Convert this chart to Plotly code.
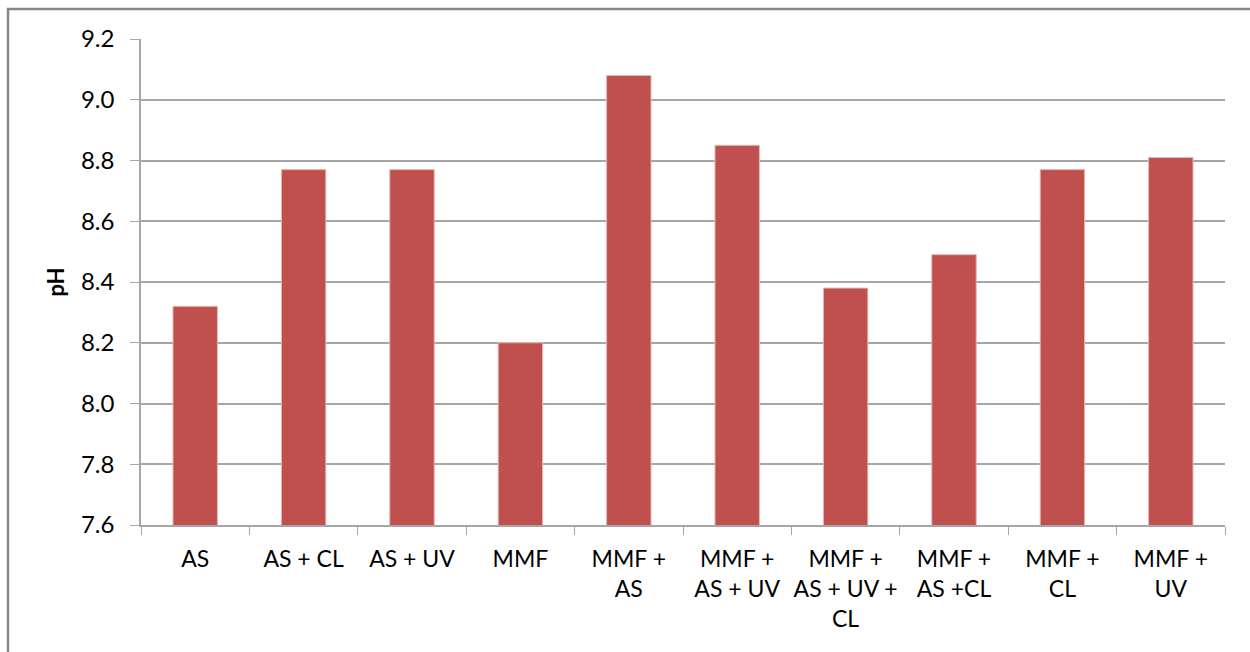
import plotly.graph_objects as go

categories = [
    "AS", "AS + CL", "AS + UV", "MMF", "MMF +<br>AS", "MMF +<br>AS + UV",
    "MMF +<br>AS + UV +<br>CL", "MMF +<br>AS +CL", "MMF +<br>CL", "MMF +<br>UV",
]
ph_values = [8.32, 8.77, 8.77, 8.20, 9.08, 8.85, 8.38, 8.49, 8.77, 8.81]
y_ticks = [7.6, 7.8, 8.0, 8.2, 8.4, 8.6, 8.8, 9.0, 9.2]

font_family = "Lato, 'Open Sans', sans-serif"
grid_color = "#a6a6a6"

fig = go.Figure(
    go.Bar(
        x=categories,
        y=ph_values,
        marker=dict(color="#c0504d", line=dict(color="#e8b8b6", width=1)),
    )
)

fig.update_layout(
    width=1250,
    height=652,
    margin=dict(l=141, r=25, t=39, b=127, autoexpand=False),
    paper_bgcolor="white",
    plot_bgcolor="white",
    bargap=0.59,
    showlegend=False,
    font=dict(family=font_family, size=21, color="#000000"),
    shapes=[
        dict(
            type="rect", xref="paper", yref="paper",
            x0=-0.1227, x1=1.3, y0=-0.5, y1=1.0617,
            line=dict(color="#878787", width=2.5), fillcolor="rgba(0,0,0,0)",
            layer="below",
        )
    ],
)

fig.update_xaxes(
    type="category",
    tickson="boundaries",
    ticks="outside",
    ticklen=8,
    tickcolor=grid_color,
    showline=True,
    linecolor=grid_color,
    linewidth=1.5,
    showgrid=False,
    tickangle=0,
    automargin=False,
    tickfont=dict(size=23),
    ticklabelstandoff=13,
)

fig.update_yaxes(
    range=[7.6, 9.2],
    tickvals=y_ticks,
    ticktext=[f"{v:.1f}" for v in y_ticks],
    ticks="outside",
    ticklen=9,
    tickcolor=grid_color,
    showline=True,
    linecolor=grid_color,
    linewidth=1.5,
    showgrid=True,
    gridcolor=grid_color,
    gridwidth=1.5,
    zeroline=False,
    automargin=False,
    tickfont=dict(size=24),
    ticklabelstandoff=11,
    title=dict(text="<b>pH</b>", font=dict(size=22), standoff=10),
)

fig.write_html("out.html")
